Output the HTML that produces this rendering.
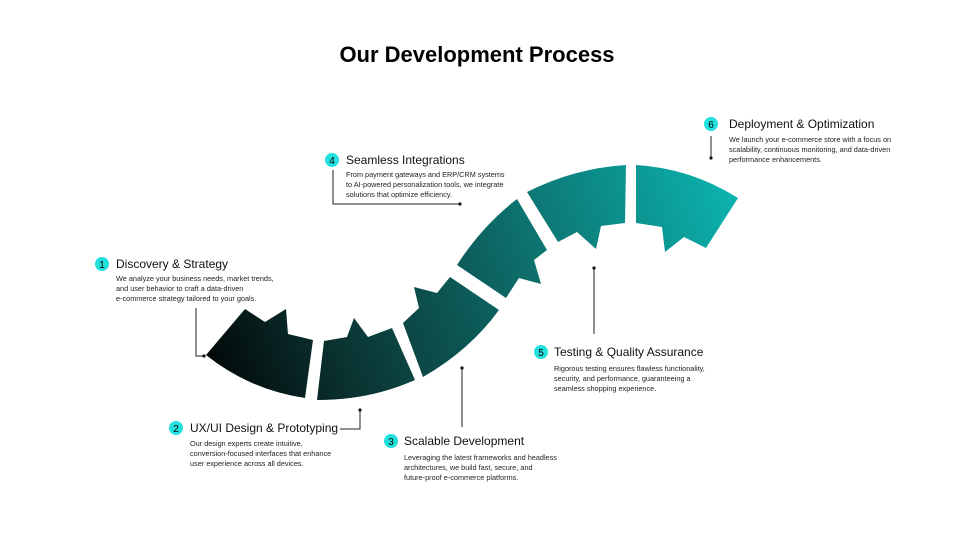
<!DOCTYPE html>
<html><head><meta charset="utf-8"><style>
html,body{margin:0;padding:0;background:#fff;}
body{width:955px;height:533px;overflow:hidden;position:relative;font-family:"Liberation Sans",sans-serif;}
svg{position:absolute;left:0;top:0;}
</style></head><body>
<svg width="955" height="533" viewBox="0 0 955 533" xmlns="http://www.w3.org/2000/svg" font-family="Liberation Sans, sans-serif">
<defs>
<linearGradient id="g" gradientUnits="userSpaceOnUse" x1="205" y1="380" x2="740" y2="180">
<stop offset="0" stop-color="#020606"/>
<stop offset="0.25" stop-color="#0a3533"/>
<stop offset="0.55" stop-color="#0d6663"/>
<stop offset="1" stop-color="#0cb6b2"/>
</linearGradient>
</defs>
<text x="477" y="62" text-anchor="middle" font-size="22" font-weight="bold" fill="#000">Our Development Process</text>

<g fill="url(#g)">
<path d="M206,355 L245,309 L265,322 L286,309 L288,334 L313,340 L305,398 Q250,390 206,355 Z"/>
<path d="M324,341 L347,337 L354,318 L368,337 L392,328 L415,380 Q370,400 317,400 Z"/>
<path d="M403,323 L419,308 L414,287 L437,293 L450,277 L499,310 Q470,350 423,377 Z"/>
<path d="M457,265 Q482,226 517,199 L547,250 L534,260 L541,284 L519,278 L506,298 Z"/>
<path d="M527,192 Q575,168 626,165 L625,223 L601,226 L596,249 L577,232 L558,242 Z"/>
<path d="M636,165 Q690,168 738,198 L706,248 L684,237 L665,252 L662,227 L636,223 Z"/>
</g>

<g stroke="#222" stroke-width="1" fill="none">
<polyline points="196,308 196,356 204,356"/>
<polyline points="340,429 360,429 360,411"/>
<line x1="462" y1="368" x2="462" y2="427"/>
<polyline points="333,170 333,204 460,204"/>
<line x1="594" y1="269" x2="594" y2="334"/>
<line x1="711" y1="136" x2="711" y2="157"/>
</g>
<g fill="#111">
<circle cx="204" cy="356" r="1.6"/><circle cx="360" cy="410" r="1.6"/><circle cx="462" cy="368" r="1.6"/>
<circle cx="460" cy="204" r="1.6"/><circle cx="594" cy="268" r="1.6"/><circle cx="711" cy="158" r="1.6"/>
</g>

<g fill="#22e0dc">
<circle cx="102" cy="264" r="7"/><circle cx="176" cy="428" r="7"/><circle cx="391" cy="441" r="7"/>
<circle cx="332" cy="160" r="7"/><circle cx="541" cy="352" r="7"/><circle cx="711" cy="124" r="7"/>
</g>
<g font-size="10" fill="#000" text-anchor="middle">
<text x="102" y="268">1</text><text x="176" y="432">2</text><text x="391" y="445">3</text>
<text x="332" y="164">4</text><text x="541" y="356">5</text><text x="711" y="128">6</text>
</g>

<g font-size="12" fill="#111">
<text x="116" y="268">Discovery &amp; Strategy</text>
<text x="190" y="432">UX/UI Design &amp; Prototyping</text>
<text x="404" y="445">Scalable Development</text>
<text x="346" y="164">Seamless Integrations</text>
<text x="554" y="356">Testing &amp; Quality Assurance</text>
<text x="729" y="128">Deployment &amp; Optimization</text>
</g>
<g font-size="7.3" fill="#222">
<text x="116" y="281">We analyze your business needs, market trends,</text>
<text x="116" y="291">and user behavior to craft a data-driven</text>
<text x="116" y="301">e-commerce strategy tailored to your goals.</text>
<text x="190" y="446">Our design experts create intuitive,</text>
<text x="190" y="456">conversion-focused interfaces that enhance</text>
<text x="190" y="466">user experience across all devices.</text>
<text x="404" y="460">Leveraging the latest frameworks and headless</text>
<text x="404" y="470">architectures, we build fast, secure, and</text>
<text x="404" y="480">future-proof e-commerce platforms.</text>
<text x="346" y="177">From payment gateways and ERP/CRM systems</text>
<text x="346" y="187">to AI-powered personalization tools, we integrate</text>
<text x="346" y="197">solutions that optimize efficiency.</text>
<text x="554" y="371">Rigorous testing ensures flawless functionality,</text>
<text x="554" y="381">security, and performance, guaranteeing a</text>
<text x="554" y="391">seamless shopping experience.</text>
<text x="729" y="142">We launch your e-commerce store with a focus on</text>
<text x="729" y="152">scalability, continuous monitoring, and data-driven</text>
<text x="729" y="162">performance enhancements.</text>
</g>
</svg>
</body></html>
